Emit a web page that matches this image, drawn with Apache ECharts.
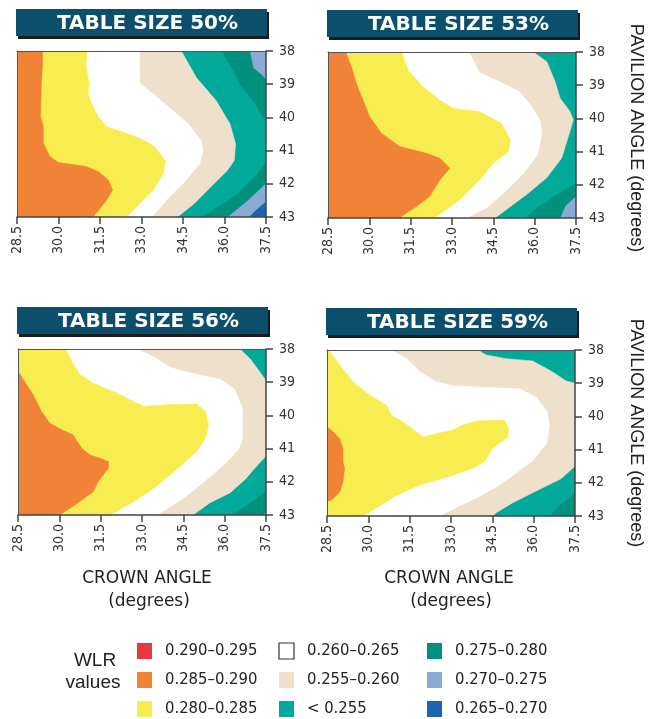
<!DOCTYPE html>
<html>
<head>
<meta charset="utf-8">
<script src="https://cdn.jsdelivr.net/npm/echarts@6/dist/echarts.min.js"></script>
<style>
  html, body { margin: 0; padding: 0; background: #fff; }
  #chart { width: 659px; height: 719px; }
</style>
</head>
<body>
<div id="chart"></div>
<script>
const panelTitles = ['TABLE SIZE 50%', 'TABLE SIZE 53%', 'TABLE SIZE 56%', 'TABLE SIZE 59%']
const crownTicks = [28.5, 30.0, 31.5, 33.0, 34.5, 36.0, 37.5]
const pavilionTicks = [38, 39, 40, 41, 42, 43]
const wlrBands = ['0.290–0.295', '0.285–0.290', '0.280–0.285',
                  '0.260–0.265', '0.255–0.260', '< 0.255',
                  '0.275–0.280', '0.270–0.275', '0.265–0.270']

// contour edges as [crown, pavilion] points, outermost first.
// the area left of each edge is filled with that band
const edges50 = [
    ['0.265–0.270', [[37.5, 38], [37.5, 43]]],
    ['0.270–0.275', [[37.5, 38], [37.5, 42.53], [37.21, 42.73], [36.88, 43]]],
    ['0.275–0.280', [[36.91, 38], [37.03, 38.51], [37.33, 38.71], [37.5, 38.88], [37.5, 41.98], [36.79, 42.53], [36.1, 43]]],
    ['< 0.255', [[35.89, 38], [36.25, 38.51], [36.55, 39.01], [37.03, 39.52], [37.33, 39.92], [37.5, 40.17], [37.5, 41.32], [37.15, 41.73], [36.43, 42.33], [35.15, 43]]],
    ['0.255–0.260', [[34.44, 38], [34.98, 38.8], [35.7, 39.5], [36.2, 40.2], [36.4, 40.8], [36.35, 41.3], [36.1, 41.6], [35.5, 42.1], [34.9, 42.6], [34.3, 43]]],
    ['0.260–0.265', [[32.92, 38], [32.94, 38.97], [33.5, 39.35], [34.0, 39.7], [34.7, 40.2], [35.15, 40.7], [35.22, 41.0], [35.1, 41.4], [34.5, 42.0], [34.0, 42.4], [33.37, 43]]],
    ['0.280–0.285', [[31.04, 38], [30.99, 38.47], [31.11, 38.97], [31.07, 39.28], [31.19, 39.58], [31.43, 39.98], [31.74, 40.28], [32.46, 40.48], [33.07, 40.68], [33.49, 40.89], [33.87, 41.33], [33.79, 41.68], [33.43, 42.19], [32.94, 42.59], [32.46, 43]]],
    ['0.285–0.290', [[29.42, 38], [29.42, 38.47], [29.38, 38.97], [29.35, 39.97], [29.45, 40.28], [29.45, 40.78], [29.69, 41.18], [29.99, 41.36], [31.0, 41.48], [31.43, 41.63], [31.8, 41.88], [31.95, 42.19], [31.74, 42.49], [31.25, 43]]]
]
const edges53 = [
    ['0.270–0.275', [[37.5, 38], [37.5, 43]]],
    ['0.275–0.280', [[37.5, 38], [37.5, 42.34], [37.1, 42.64], [36.92, 43]]],
    ['< 0.255', [[37.5, 38], [37.5, 41.94], [36.8, 42.29], [36.07, 42.69], [35.65, 43]]],
    ['0.255–0.260', [[35.95, 38], [36.44, 38.29], [36.74, 38.89], [36.92, 39.39], [37.28, 39.79], [37.4, 40.04], [37.28, 40.39], [36.98, 41.19], [36.44, 41.79], [35.71, 42.29], [35.22, 42.59], [34.56, 43]]],
    ['0.260–0.265', [[33.62, 38], [34.0, 38.62], [34.74, 38.9], [35.45, 39.2], [35.85, 39.6], [36.22, 40.1], [36.25, 40.5], [36.1, 41.1], [35.6, 41.65], [35.0, 42.15], [34.25, 42.7], [33.52, 43]]],
    ['0.280–0.285', [[31.16, 38], [31.41, 38.55], [31.95, 39.05], [32.56, 39.45], [33.04, 39.7], [34.01, 39.8], [34.8, 40.15], [35.12, 40.65], [35.04, 41.0], [34.49, 41.35], [34.01, 41.85], [33.28, 42.45], [32.37, 43]]],
    ['0.285–0.290', [[29.14, 38], [29.35, 38.45], [29.53, 38.95], [29.77, 39.45], [30.01, 39.95], [30.44, 40.45], [31.1, 40.85], [32.07, 41.05], [32.56, 41.2], [32.92, 41.5], [32.56, 41.85], [32.19, 42.35], [31.71, 42.65], [31.08, 43]]]
]
const edges56 = [
    ['0.270–0.275', [[37.5, 38], [37.5, 43]]],
    ['0.275–0.280', [[37.5, 38], [37.5, 42.9], [37.38, 43]]],
    ['< 0.255', [[37.5, 38], [37.5, 42.27], [36.85, 42.68], [36.23, 43]]],
    ['0.255–0.260', [[36.56, 38], [36.93, 38.3], [37.29, 38.71], [37.5, 38.95], [37.5, 41.22], [37.05, 41.63], [36.75, 41.92], [36.2, 42.33], [35.47, 42.63], [34.85, 43]]],
    ['0.260–0.265', [[32.81, 38], [33.5, 38.27], [34.0, 38.55], [34.9, 38.75], [35.85, 38.92], [36.35, 39.2], [36.65, 39.8], [36.65, 40.7], [36.5, 41.03], [35.96, 41.5], [35.25, 42.0], [34.5, 42.5], [33.54, 43]]],
    ['0.280–0.285', [[30.24, 38], [30.44, 38.37], [30.75, 38.77], [31.23, 39.03], [32.08, 39.33], [32.69, 39.58], [33.05, 39.73], [33.9, 39.68], [34.99, 39.66], [35.3, 39.88], [35.42, 40.28], [35.3, 40.69], [34.99, 41.09], [34.3, 41.6], [33.42, 42.2], [32.69, 42.6], [31.84, 43]]],
    ['0.285–0.290', [[28.5, 38.67], [28.74, 38.98], [29.05, 39.38], [29.35, 39.88], [29.65, 40.23], [30.08, 40.43], [30.5, 40.59], [30.81, 40.99], [31.11, 41.19], [31.47, 41.29], [31.78, 41.39], [31.78, 41.59], [31.41, 41.99], [31.23, 42.3], [30.56, 42.7], [30.02, 43]]]
]
const edges59 = [
    ['0.275–0.280', [[37.5, 38], [37.5, 43]]],
    ['< 0.255', [[37.5, 38], [37.5, 42.3], [37.05, 42.6], [36.57, 43]]],
    ['0.255–0.260', [[33.98, 38], [34.27, 38.15], [34.99, 38.26], [35.96, 38.33], [36.69, 38.66], [37.17, 38.93], [37.5, 39.0], [37.5, 41.5], [36.99, 41.88], [36.45, 42.1], [35.96, 42.3], [35.24, 42.6], [34.64, 42.9], [34.51, 43]]],
    ['0.260–0.265', [[30.83, 38], [31.37, 38.25], [31.86, 38.65], [32.46, 38.96], [33.07, 39.08], [34.03, 39.12], [35.48, 39.17], [36.1, 39.42], [36.48, 39.85], [36.57, 40.28], [36.48, 40.8], [35.96, 41.33], [35.3, 41.75], [34.6, 42.15], [34.0, 42.42], [33.31, 42.7], [32.58, 43]]],
    ['0.280–0.285', [[28.57, 38], [28.96, 38.45], [29.44, 38.96], [30.05, 39.36], [30.65, 39.66], [30.83, 39.96], [31.25, 40.16], [31.74, 40.46], [31.98, 40.62], [32.46, 40.52], [33.07, 40.41], [33.43, 40.26], [33.91, 40.14], [34.94, 40.11], [35.09, 40.36], [35.06, 40.62], [34.51, 40.97], [34.21, 41.37], [33.91, 41.52], [33.07, 41.77], [32.7, 41.87], [31.86, 42.07], [31.01, 42.38], [30.05, 42.88], [29.8, 43]]],
    ['0.285–0.290', [[28.5, 40.31], [28.72, 40.46], [28.96, 40.67], [29.08, 40.97], [29.08, 41.37], [29.14, 41.57], [29.08, 41.97], [28.96, 42.28], [28.72, 42.48], [28.5, 42.58]]]
]
const panels = [edges50, edges53, edges56, edges59]

const bandColor = {
    '0.290–0.295': '#e63a40',
    '0.285–0.290': '#f08336',
    '0.280–0.285': '#f8ed50',
    '0.260–0.265': '#ffffff',
    '0.255–0.260': '#eee0ca',
    '< 0.255': '#00a999',
    '0.275–0.280': '#00907e',
    '0.270–0.275': '#88aad3',
    '0.265–0.270': '#1c64b1'
}

const grids = [
    { left: 17, top: 51, width: 249, height: 166 },
    { left: 328, top: 52, width: 248, height: 166 },
    { left: 18, top: 349, width: 248, height: 166 },
    { left: 327, top: 350, width: 248, height: 166 }
]
const axisColor = '#444'
const labelFont = '"Liberation Sans Narrow", "DejaVu Sans Condensed", sans-serif'

const myChart = echarts.init(document.getElementById('chart'))

const xAxes = []
const yAxes = []
grids.forEach((g, i) => {
    xAxes[i] = {
        gridIndex: i, type: 'value', position: 'bottom', z: 10,
        min: crownTicks[0], max: crownTicks[crownTicks.length - 1], interval: 1.5,
        axisLine: { show: true, onZero: false, lineStyle: { color: axisColor, width: 1.5 } },
        axisTick: { show: true, length: 7, lineStyle: { color: axisColor, width: 1.5 } },
        axisLabel: { rotate: 90, margin: 9, fontSize: 14, color: '#333', fontFamily: labelFont,
            formatter: v => v.toFixed(1) },
        splitLine: { show: false }
    }
    xAxes[i + 4] = {
        gridIndex: i, type: 'value', position: 'top', z: 10,
        min: crownTicks[0], max: crownTicks[crownTicks.length - 1],
        axisLine: { show: true, onZero: false, lineStyle: { color: '#555', width: 1 } },
        axisTick: { show: false }, axisLabel: { show: false }, splitLine: { show: false }
    }
    yAxes[i] = {
        gridIndex: i, type: 'value', position: 'right', inverse: true, z: 10,
        min: pavilionTicks[0], max: pavilionTicks[pavilionTicks.length - 1], interval: 1,
        axisLine: { show: true, onZero: false, lineStyle: { color: axisColor, width: 1.5 } },
        axisTick: { show: true, length: 7, lineStyle: { color: axisColor, width: 1.5 } },
        axisLabel: { margin: 13, fontSize: 14, color: '#333', fontFamily: labelFont },
        splitLine: { show: false }
    }
    yAxes[i + 4] = {
        gridIndex: i, type: 'value', position: 'left', inverse: true, z: 10,
        min: pavilionTicks[0], max: pavilionTicks[pavilionTicks.length - 1],
        axisLine: { show: true, onZero: false, lineStyle: { color: '#555', width: 1 } },
        axisTick: { show: false }, axisLabel: { show: false }, splitLine: { show: false }
    }
})

const series = panels.map((edges, i) => ({
    type: 'custom',
    xAxisIndex: i,
    yAxisIndex: i,
    clip: true,
    silent: true,
    data: edges.map((e, k) => k),
    renderItem: function (params, api) {
        const band = edges[params.dataIndex][0]
        const pts = edges[params.dataIndex][1]
        // close the shape along the left edge of the plot
        const ring = pts.concat([[crownTicks[0], pts[pts.length - 1][1]], [crownTicks[0], pts[0][1]]])
        const fill = bandColor[band]
        return {
            type: 'polygon',
            shape: { points: ring.map(p => api.coord(p)) },
            style: { fill: fill, stroke: fill, lineWidth: 0.6 }
        }
    }
}))

const graphic = []
grids.forEach((g, i) => {
    const bx = g.left - 1, by = g.top - 42, bw = 251, bh = 27
    graphic.push({ type: 'rect', shape: { x: bx + 2, y: by + 3, width: bw, height: bh }, style: { fill: '#1b1b1b' } })
    graphic.push({ type: 'rect', shape: { x: bx, y: by, width: bw, height: bh }, style: { fill: '#0b4f6c' } })
    graphic.push({
        type: 'text', x: bx + bw / 2 + 6, y: by + bh / 2 + 1,
        style: { text: panelTitles[i], textAlign: 'center', textVerticalAlign: 'middle',
            fill: '#fff', font: 'bold 20px "DejaVu Sans", sans-serif' }
    })
})
;[138, 433].forEach(cy => {
    graphic.push({
        type: 'text', x: 636, y: cy, rotation: -Math.PI / 2,
        style: { text: 'PAVILION ANGLE (degrees)', textAlign: 'center', textVerticalAlign: 'middle',
            fill: '#222', font: '18px "Liberation Sans", sans-serif' }
    })
})
;[147, 449].forEach(cx => {
    graphic.push({
        type: 'text', x: cx, y: 579,
        style: { text: 'CROWN ANGLE', textAlign: 'center', textVerticalAlign: 'middle',
            fill: '#222', font: '17px "DejaVu Sans", sans-serif' }
    })
    graphic.push({
        type: 'text', x: cx + 2, y: 602,
        style: { text: '(degrees)', textAlign: 'center', textVerticalAlign: 'middle',
            fill: '#222', font: '17px "DejaVu Sans", sans-serif' }
    })
})
graphic.push({
    type: 'text', x: 95, y: 661,
    style: { text: 'WLR', textAlign: 'center', textVerticalAlign: 'middle', fill: '#222', font: '19px "Liberation Sans", sans-serif' }
})
graphic.push({
    type: 'text', x: 93, y: 683,
    style: { text: 'values', textAlign: 'center', textVerticalAlign: 'middle', fill: '#222', font: '19px "Liberation Sans", sans-serif' }
})
const legendCols = [137, 279, 427]
const legendRows = [651, 680, 709]
wlrBands.forEach((band, k) => {
    const x = legendCols[Math.floor(k / 3)]
    const y = legendRows[k % 3]
    graphic.push({
        type: 'rect', shape: { x: x, y: y - 8, width: 15, height: 16 },
        style: { fill: bandColor[band], stroke: band === '0.260–0.265' ? '#333' : null, lineWidth: 1.2 }
    })
    graphic.push({
        type: 'text', x: x + 28, y: y,
        style: { text: band, textVerticalAlign: 'middle', fill: '#222', font: '16.5px ' + labelFont }
    })
})

const option = {
    animation: false,
    grid: grids.map(g => Object.assign({ show: false }, g)),
    xAxis: xAxes,
    yAxis: yAxes,
    series: series,
    graphic: graphic
}
myChart.setOption(option)
</script>
</body>
</html>
